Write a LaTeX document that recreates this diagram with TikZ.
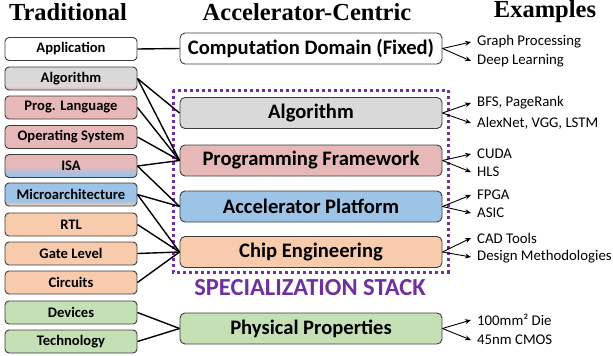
\documentclass[tikz,border=0pt]{standalone}
\usepackage{fontspec}
\setmainfont{Carlito}
\newfontfamily\hdrfont{Liberation Serif}
\usetikzlibrary{arrows.meta}
\definecolor{grayc}{RGB}{217,217,217}
\definecolor{pinkc}{RGB}{230,185,184}
\definecolor{bluec}{RGB}{157,195,230}
\definecolor{orangec}{RGB}{248,203,173}
\definecolor{greenc}{RGB}{197,224,180}
\definecolor{bordc}{RGB}{60,60,60}
\definecolor{purp}{RGB}{112,48,160}
\pgfdeclareverticalshading{algsh}{100bp}{color(0bp)=(pinkc); color(27bp)=(pinkc); color(34bp)=(grayc); color(100bp)=(grayc)}
\pgfdeclareverticalshading{isash}{100bp}{color(0bp)=(bluec); color(30bp)=(bluec); color(50bp)=(pinkc); color(100bp)=(pinkc)}
\pgfdeclareverticalshading{microsh}{100bp}{color(0bp)=(orangec); color(27bp)=(orangec); color(35bp)=(bluec); color(100bp)=(bluec)}
\tikzset{
  lbox/.style={draw=bordc, line width=0.9pt, rounded corners=4pt, minimum width=132pt, minimum height=23pt, inner sep=0pt, font=\bfseries\fontsize{14.6}{14.6}\selectfont},
  mbox/.style={draw=bordc, line width=0.9pt, rounded corners=5pt, minimum width=262pt, minimum height=31pt, inner sep=0pt, font=\bfseries\fontsize{20.6}{20.6}\selectfont},
  hdr/.style={font=\hdrfont\bfseries\fontsize{24.5}{24.5}\selectfont, inner sep=0pt},
  ex/.style={anchor=west, inner xsep=6pt, inner ysep=0pt, font=\fontsize{14.8}{14.8}\selectfont},
  conn/.style={line width=1.4pt, black},
  arr/.style={line width=0.9pt, black, -{Stealth[length=6pt,width=5pt]}},
}
\begin{document}
\begin{tikzpicture}[x=1pt,y=-1pt]
\useasboundingbox (0,0) rectangle (613,356);
% headers
\node[hdr] (h1) at (68,12) {Traditional};
\node[hdr] (h2) at (307,12) {Accelerator-Centric};
\node[hdr] (h3) at (545,12) {Examples};
% left column
\node[lbox, fill=white] (lapp) at (71,49) {Application};
\node[lbox, shading=algsh] (lalg) at (71,78.5) {Algorithm};
\node[lbox, fill=pinkc] (lprog) at (71,107.5) {Prog. Language};
\node[lbox, fill=pinkc] (los) at (71,137) {Operating System};
\node[lbox, shading=isash] (lisa) at (71,166) {ISA};
\node[lbox, shading=microsh] (lmicro) at (71,194.5) {Microarchitecture};
\node[lbox, fill=orangec] (lrtl) at (71,224.5) {RTL};
\node[lbox, fill=orangec] (lgate) at (71,253.5) {Gate Level};
\node[lbox, fill=orangec] (lcirc) at (71,282.5) {Circuits};
\node[lbox, fill=greenc] (ldev) at (71,312.5) {Devices};
\node[lbox, fill=greenc] (ltech) at (71,341.5) {Technology};
% specialization stack frame
\draw[purp, line width=3pt, dash pattern=on 3pt off 3pt] (173,90) rectangle (448,272);
\node[font=\bfseries\fontsize{24.5}{24.5}\selectfont, text=purp, inner sep=0pt] (spec) at (310,288) {SPECIALIZATION STACK};
% middle column
\node[mbox, fill=white] (mcomp) at (311,48.5) {Computation Domain (Fixed)};
\node[mbox, fill=grayc] (malg) at (311,113) {Algorithm};
\node[mbox, fill=pinkc] (mprog) at (311,160.5) {Programming Framework};
\node[mbox, fill=bluec] (macc) at (311,206.5) {Accelerator Platform};
\node[mbox, fill=orangec] (mchip) at (311,252) {Chip Engineering};
\node[mbox, fill=greenc] (mphys) at (311,328.5) {Physical Properties};
% connectors left -> middle
\draw[conn] (lapp.east) -- (mcomp.west);
\draw[conn] (lalg.east) -- (malg.west);
\draw[conn] (lalg.east) -- (mprog.west);
\draw[conn] (lprog.east) -- (mprog.west);
\draw[conn] (los.east) -- (mprog.west);
\draw[conn] (lisa.east) -- (mprog.west);
\draw[conn] (lisa.east) -- (macc.west);
\draw[conn] (lmicro.east) -- (macc.west);
\draw[conn] (lmicro.east) -- (mchip.west);
\draw[conn] (lrtl.east) -- (mchip.west);
\draw[conn] (lgate.east) -- (mchip.west);
\draw[conn] (lcirc.east) -- (mchip.west);
\draw[conn] (ldev.east) -- (mphys.west);
\draw[conn] (ltech.east) -- (mphys.west);
% examples
\node[ex] (e1) at (471,42) {Graph Processing};
\node[ex] (e2) at (471,61) {Deep Learning};
\node[ex] (e3) at (471,103) {BFS, PageRank};
\node[ex] (e4) at (471,123) {AlexNet, VGG, LSTM};
\node[ex] (e5) at (471,154) {CUDA};
\node[ex] (e6) at (471,172) {HLS};
\node[ex] (e7) at (471,195) {FPGA};
\node[ex] (e8) at (471,213) {ASIC};
\node[ex] (e9) at (471,238) {CAD Tools};
\node[ex] (e10) at (471,257) {Design Methodologies};
\node[ex] (e11) at (471,320) {100mm² Die};
\node[ex] (e12) at (471,340) {45nm CMOS};
\draw[arr] (mcomp.east) -- (e1.west);
\draw[arr] (mcomp.east) -- (e2.west);
\draw[arr] (malg.east) -- (e3.west);
\draw[arr] (malg.east) -- (e4.west);
\draw[arr] (mprog.east) -- (e5.west);
\draw[arr] (mprog.east) -- (e6.west);
\draw[arr] (macc.east) -- (e7.west);
\draw[arr] (macc.east) -- (e8.west);
\draw[arr] (mchip.east) -- (e9.west);
\draw[arr] (mchip.east) -- (e10.west);
\draw[arr] (mphys.east) -- (e11.west);
\draw[arr] (mphys.east) -- (e12.west);
\end{tikzpicture}
\end{document}
